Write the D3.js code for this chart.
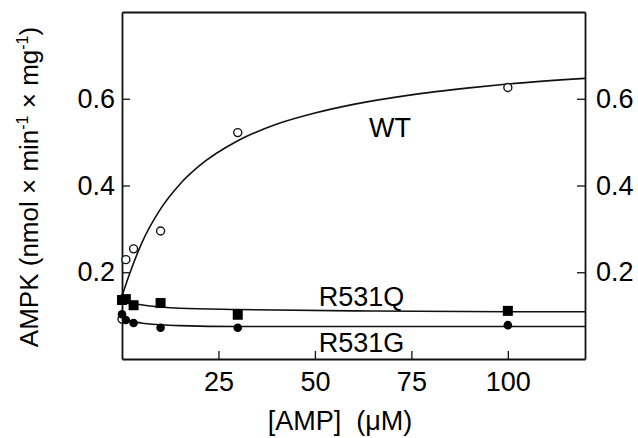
<!DOCTYPE html>
<html>
<head>
<meta charset="utf-8">
<script src="https://cdn.jsdelivr.net/npm/d3@7"></script>
<style>
  body { margin: 0; background: #fff; }
  svg { font-family: "Liberation Sans", Arial, sans-serif; }
</style>
</head>
<body>
<svg width="638" height="438"></svg>
<script>
// data
const amp = [0, 1, 3, 10, 30, 100]
const wt = [0.092, 0.229, 0.254, 0.295, 0.522, 0.626]
const r531q = [0.136, 0.138, 0.124, 0.129, 0.102, 0.111]
const r531g = [0.103, 0.090, 0.083, 0.072, 0.072, 0.078]

// fitted curves
const fitX = [0, 2, 5, 10, 15, 20, 30, 40, 50, 60, 75, 90, 100, 120]
const wtFit = [0.145, 0.197, 0.265, 0.346, 0.403, 0.445, 0.503, 0.541, 0.567, 0.587, 0.609, 0.625, 0.634, 0.647]
const qFitX = [0, 1, 2, 5, 10, 15, 30, 60, 100, 120]
const qFit = [0.138, 0.134, 0.131, 0.125, 0.120, 0.117, 0.114, 0.111, 0.109, 0.109]
const gFit = [0.100, 0.093, 0.089, 0.083, 0.079, 0.077, 0.075, 0.075, 0.075, 0.075]

const xTicks = [25, 50, 75, 100]
const yTicks = [0.2, 0.4, 0.6]

const svg = d3.select('svg'),
    margin = {top: 12, right: 53, bottom: 79, left: 122},
    width = svg.attr('width') - margin.left - margin.right,
    height = svg.attr('height') - margin.top - margin.bottom,
    x = d3.scaleLinear().domain([0, 120]).range([0, width]),
    y = d3.scaleLinear().domain([0, 0.8]).range([height, 0]),
    g = svg.append('g')
        .attr('transform', `translate(${margin.left}, ${margin.top})`);

const styleAxis = sel => {
    sel.select('.domain').attr('stroke', '#111').attr('stroke-width', 1.8)
    sel.selectAll('.tick line').attr('stroke', '#111').attr('stroke-width', 1.3)
    sel.selectAll('.tick text').attr('fill', '#000').attr('font-size', 27)
        .attr('font-family', '"Liberation Sans", Arial, sans-serif')
}

// x-axis
g.append('g')
    .attr('transform', `translate(0, ${height})`)
    .call(d3.axisBottom(x).tickValues(xTicks).tickSizeInner(-8).tickSizeOuter(0).tickPadding(13))
    .call(styleAxis)

// top frame
g.append('g')
    .call(d3.axisTop(x).tickValues([]).tickSizeOuter(0))
    .call(styleAxis)

g.append('g')
    .call(d3.axisLeft(y).tickValues(yTicks).tickFormat(d3.format('.1f'))
        .tickSizeInner(-8).tickSizeOuter(0).tickPadding(7))
    .call(styleAxis)

g.append('g')
    .attr('transform', `translate(${width}, 0)`)
    .call(d3.axisRight(y).tickValues(yTicks).tickFormat(d3.format('.1f'))
        .tickSizeInner(-8).tickSizeOuter(0).tickPadding(11))
    .call(styleAxis)

// curves
const line = d3.line().x(d => x(d[0])).y(d => y(d[1])).curve(d3.curveMonotoneX)
const curves = [d3.zip(fitX, wtFit), d3.zip(qFitX, qFit), d3.zip(qFitX, gFit)]
g.selectAll('.fit')
    .data(curves)
    .enter().append('path')
    .attr('class', 'fit')
    .attr('d', line)
    .attr('fill', 'none')
    .attr('stroke', '#111')
    .attr('stroke-width', 1.6)

// WT: open circles
g.selectAll('.wt')
    .data(d3.zip(amp, wt))
    .enter().append('circle')
    .attr('class', 'wt')
    .attr('cx', d => x(d[0]))
    .attr('cy', d => y(d[1]))
    .attr('r', 4)
    .attr('fill', '#fff')
    .attr('stroke', '#111')
    .attr('stroke-width', 1.4)

// R531Q: filled squares
g.selectAll('.q')
    .data(d3.zip(amp, r531q))
    .enter().append('rect')
    .attr('class', 'q')
    .attr('x', d => x(d[0]) - 5)
    .attr('y', d => y(d[1]) - 5)
    .attr('width', 10)
    .attr('height', 10)
    .attr('fill', '#000')

// R531G: filled circles
g.selectAll('.gg')
    .data(d3.zip(amp, r531g))
    .enter().append('circle')
    .attr('class', 'gg')
    .attr('cx', d => x(d[0]))
    .attr('cy', d => y(d[1]))
    .attr('r', 4.3)
    .attr('fill', '#000')

// series labels
const labels = [
    {t: 'WT', x: 64, y: 0.512},
    {t: 'R531Q', x: 51, y: 0.122},
    {t: 'R531G', x: 51, y: 0.016}
]
g.selectAll('.lab')
    .data(labels)
    .enter().append('text')
    .attr('x', d => x(d.x))
    .attr('y', d => y(d.y))
    .attr('font-size', 27)
    .text(d => d.t)

// axis titles
svg.append('text')
    .attr('x', margin.left + x(56.5))
    .attr('y', 430)
    .attr('text-anchor', 'middle')
    .attr('font-size', 27)
    .attr('xml:space', 'preserve')
    .text('[AMP]  (\u03bcM)')

const yt = svg.append('text')
    .attr('transform', 'translate(38, 187) rotate(-90)')
    .attr('text-anchor', 'middle')
    .attr('font-size', 26)
    .attr('xml:space', 'preserve')
yt.append('tspan').text('AMPK (nmol \u00d7 min')
yt.append('tspan').attr('font-size', 16).attr('dy', -10).text('-1')
yt.append('tspan').attr('dy', 10).text(' \u00d7 mg')
yt.append('tspan').attr('font-size', 16).attr('dy', -10).text('-1')
yt.append('tspan').attr('dy', 10).text(')')
</script>
</body>
</html>
